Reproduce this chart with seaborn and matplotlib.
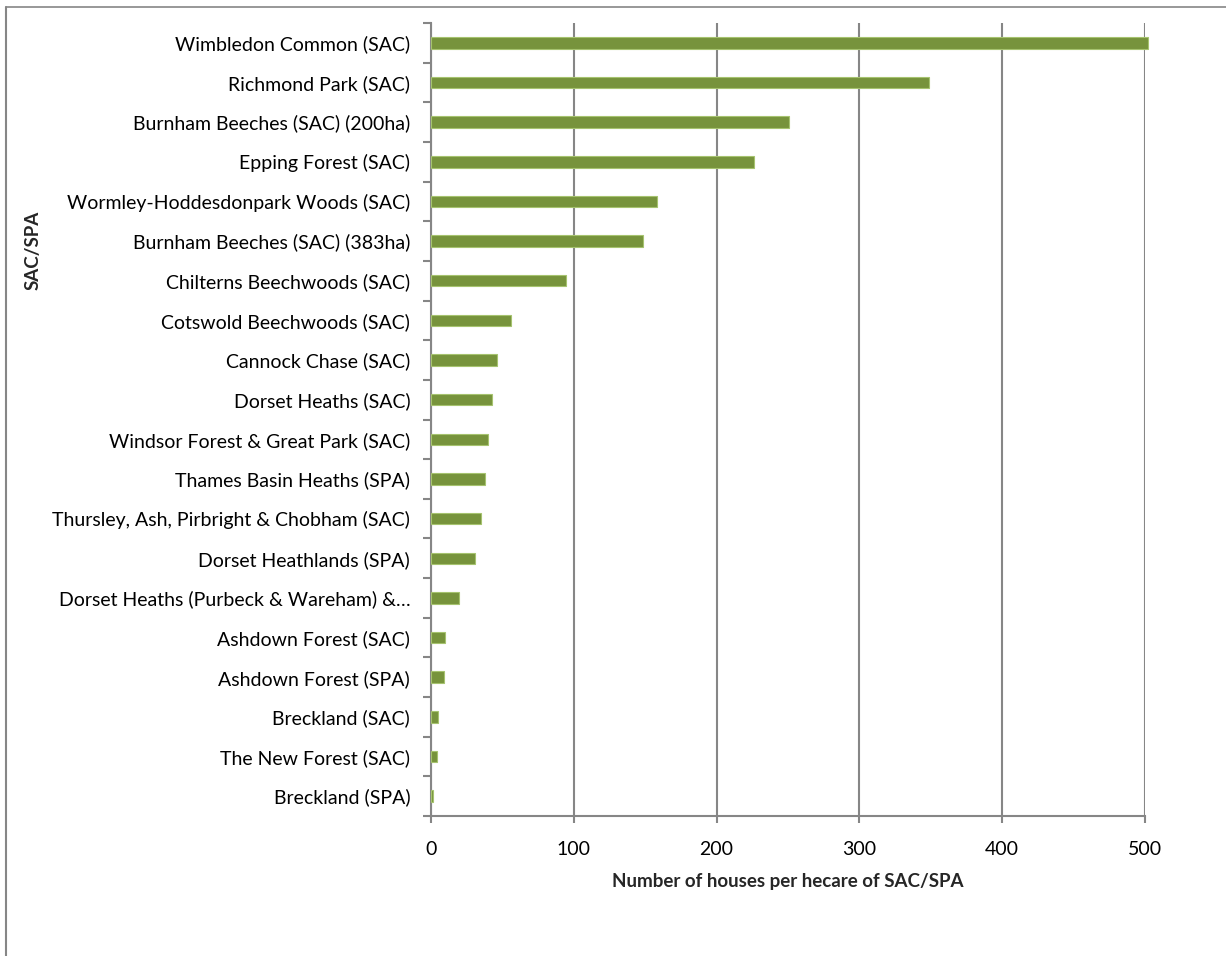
import matplotlib
matplotlib.use("Agg")
import matplotlib.pyplot as plt
import seaborn as sns
import pandas as pd
import numpy as np
from matplotlib.ticker import FixedLocator
from matplotlib.lines import Line2D

# данные с графика
sites = [
    "Wimbledon Common (SAC)",
    "Richmond Park (SAC)",
    "Burnham Beeches (SAC) (200ha)",
    "Epping Forest (SAC)",
    "Wormley-Hoddesdonpark Woods (SAC)",
    "Burnham Beeches (SAC) (383ha)",
    "Chilterns Beechwoods (SAC)",
    "Cotswold Beechwoods (SAC)",
    "Cannock Chase (SAC)",
    "Dorset Heaths (SAC)",
    "Windsor Forest & Great Park (SAC)",
    "Thames Basin Heaths (SPA)",
    "Thursley, Ash, Pirbright & Chobham (SAC)",
    "Dorset Heathlands (SPA)",
    "Dorset Heaths (Purbeck & Wareham) &\u2026",
    "Ashdown Forest (SAC)",
    "Ashdown Forest (SPA)",
    "Breckland (SAC)",
    "The New Forest (SAC)",
    "Breckland (SPA)",
]
houses_per_ha = [502, 349, 250.5, 226, 158, 148.5, 94.5, 56, 46, 42.7, 39.7,
                 37.6, 35, 30.6, 19.4, 9.8, 9.1, 4.9, 4.0, 1.2]
x_ticks = [0, 100, 200, 300, 400, 500]

df = pd.DataFrame({"site": sites, "value": houses_per_ha})

sns.set_theme(style="white")
plt.rcParams["font.family"] = ["Lato", "DejaVu Sans"]

W, H = 1226, 956
fig = plt.figure(figsize=(W / 100, H / 100), dpi=100)
ax = fig.add_axes([431 / W, 1 - 816 / H, (1145 - 431) / W, (816 - 23) / H])

grid_col = "#868686"
sns.barplot(data=df, x="value", y="site", orient="h", color="#77933C",
            width=0.29, edgecolor="#A6C36F", linewidth=0.8, saturation=1,
            ax=ax, zorder=3)
for p in ax.patches:
    p.set_clip_on(False)

ax.set_xlim(0, 500)
ax.set_ylim(len(sites) - 0.5, -0.5)
ax.xaxis.set_major_locator(FixedLocator(x_ticks))
ax.grid(axis="x", color=grid_col, linewidth=1.5, zorder=0)
ax.grid(axis="y", visible=False)

for s in ["top", "right"]:
    ax.spines[s].set_visible(False)
for s in ["left", "bottom"]:
    ax.spines[s].set_color(grid_col)
    ax.spines[s].set_linewidth(1.5)

ax.tick_params(axis="x", which="major", direction="out", length=5, width=1.5,
               color=grid_col, pad=13, labelsize=14, labelcolor="black", bottom=True)
ax.tick_params(axis="y", which="major", length=0, pad=15, labelsize=14, labelcolor="black")
ax.yaxis.set_minor_locator(FixedLocator(np.arange(-0.5, len(sites), 1.0)))
ax.tick_params(axis="y", which="minor", direction="out", length=6, width=1.5,
               color=grid_col, left=True)

ax.set_ylabel("")
ax.set_xlabel("Number of houses per hecare of SAC/SPA", fontsize=13.5,
              fontweight="bold", labelpad=11)
fig.text(33 / W, 1 - 250 / H, "SAC/SPA", rotation=90, fontsize=13.5,
         fontweight="bold", ha="center", va="center")

# рамка области диаграммы
fig.add_artist(Line2D([6 / W, 1.0], [1 - 7 / H, 1 - 7 / H], color=grid_col,
                      linewidth=1.2, transform=fig.transFigure))
fig.add_artist(Line2D([6 / W, 6 / W], [0.0, 1 - 7 / H], color=grid_col,
                      linewidth=1.5, transform=fig.transFigure))

fig.savefig("out.png", dpi=100)
